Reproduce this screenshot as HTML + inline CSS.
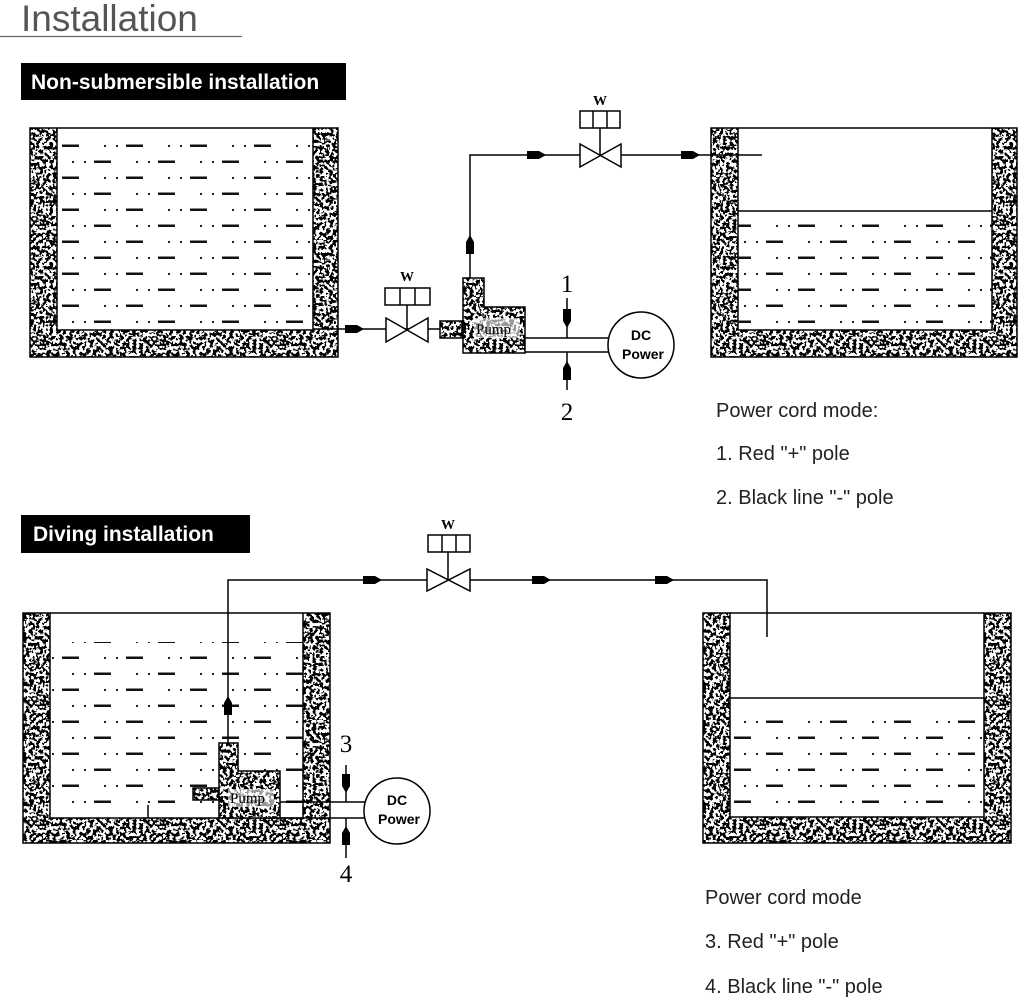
<!DOCTYPE html>
<html><head><meta charset="utf-8"><style>
html,body{margin:0;padding:0;background:#fff;}
body{width:1024px;height:1000px;overflow:hidden;position:relative;font-family:"Liberation Sans",sans-serif;}
</style></head><body>
<svg width="1024" height="1000" viewBox="0 0 1024 1000" xmlns="http://www.w3.org/2000/svg" style="position:absolute;left:0;top:0">
<defs>
<filter id="nz" x="0" y="0" width="100%" height="100%">
<feTurbulence type="fractalNoise" baseFrequency="0.3" numOctaves="2" seed="3"/>
<feColorMatrix type="matrix" values="1 0 0 0 0 1 0 0 0 0 1 0 0 0 0 0 0 0 0 1"/>
<feComponentTransfer><feFuncR type="discrete" tableValues="0 1"/><feFuncG type="discrete" tableValues="0 1"/><feFuncB type="discrete" tableValues="0 1"/></feComponentTransfer>
</filter>
<pattern id="spk" patternUnits="userSpaceOnUse" width="120" height="120">
<rect width="120" height="120" fill="#fff" filter="url(#nz)"/>
</pattern>
<pattern id="wtr" patternUnits="userSpaceOnUse" width="64" height="32" x="0" y="0">
<rect x="8" y="1" width="2" height="2" fill="#222"/><rect x="20" y="1" width="2" height="2" fill="#222"/>
<rect x="30" y="0.5" width="17" height="2.5" fill="#111"/>
<rect x="40" y="17" width="2" height="2" fill="#222"/><rect x="52" y="17" width="2" height="2" fill="#222"/>
<rect x="62" y="16.5" width="2" height="2.5" fill="#111"/><rect x="0" y="16.5" width="15" height="2.5" fill="#111"/>
</pattern>
<g id="arrR"><path d="M-9,-4 L3,-4 L10,0 L3,4 L-9,4 Z" fill="#000"/></g>
<g id="arrU"><path d="M-4,9 L-4,-3 L0,-10 L4,-3 L4,9 Z" fill="#000"/></g>
<g id="arrD"><path d="M-4,-9 L-4,3 L0,10 L4,3 L4,-9 Z" fill="#000"/></g>
</defs>

<text x="21" y="31" font-size="37" fill="#555" font-family="Liberation Sans, sans-serif">Installation</text>
<line x1="0" y1="36.5" x2="242" y2="36.5" stroke="#666" stroke-width="1.2"/>
<rect x="21" y="63" width="325" height="37" fill="#000"/>
<text x="31" y="89" font-size="21" font-weight="bold" fill="#fff">Non-submersible installation</text>
<rect x="21" y="515" width="229" height="38" fill="#000"/>
<text x="33" y="541" font-size="21" font-weight="bold" fill="#fff">Diving installation</text>

<g stroke="#000" stroke-width="1.5" fill="none">
<path d="M30,128 H57 V330 H313 V128 H338 V357 H30 Z" fill="url(#spk)"/>
<rect x="57" y="136" width="256" height="192" fill="url(#wtr)" stroke="none"/>
<line x1="57" y1="128" x2="313" y2="128"/>
<path d="M711,128 H738 V330 H992 V128 H1017 V357 H711 Z" fill="url(#spk)"/>
<line x1="738" y1="128" x2="992" y2="128"/>
<line x1="738" y1="211" x2="992" y2="211"/>
<rect x="738" y="220" width="254" height="108" fill="url(#wtr)" stroke="none"/>
<path d="M23,613 H50 V818 H303 V613 H330 V843 H23 Z" fill="url(#spk)"/>
<line x1="50" y1="613" x2="303" y2="613"/>
<rect x="50" y="642" width="253" height="168" fill="url(#wtr)" stroke="none"/>
<path d="M703,613 H730 V817 H984 V613 H1011 V843 H703 Z" fill="url(#spk)"/>
<line x1="730" y1="613" x2="984" y2="613"/>
<line x1="730" y1="698" x2="984" y2="698"/>
<rect x="730" y="708" width="254" height="104" fill="url(#wtr)" stroke="none"/>

<line x1="313" y1="329" x2="440" y2="329"/>
<polyline points="470,278 470,155 762,155"/>
<path d="M386,318 L386,342 L428,318 L428,342 Z" fill="#fff"/>
<line x1="407" y1="305" x2="407" y2="330"/>
<rect x="385" y="288" width="45" height="17" fill="#fff"/>
<line x1="400" y1="288" x2="400" y2="305"/><line x1="415" y1="288" x2="415" y2="305"/>
<path d="M580,144 L580,167 L621,144 L621,167 Z" fill="#fff"/>
<line x1="600" y1="128" x2="600" y2="155"/>
<rect x="580" y="111" width="40" height="17" fill="#fff"/>
<line x1="593" y1="111" x2="593" y2="128"/><line x1="607" y1="111" x2="607" y2="128"/>
<rect x="440" y="321" width="22" height="17" fill="url(#spk)"/>
<path d="M463,278 H484 V307 H525 V353 H463 Z" fill="url(#spk)"/>
<rect x="474" y="318" width="46" height="20" fill="#fff" stroke="none" opacity="0.6"/>
<line x1="525" y1="338" x2="609" y2="338"/><line x1="525" y1="352" x2="609" y2="352"/>
<circle cx="641" cy="345" r="33" fill="#fff"/>
<line x1="567" y1="298" x2="567" y2="338"/><line x1="567" y1="352" x2="567" y2="390"/>

<polyline points="228,743 228,580 767,580 767,637"/>
<path d="M427,569 L427,591 L470,569 L470,591 Z" fill="#fff"/>
<line x1="448" y1="552" x2="448" y2="580"/>
<rect x="428" y="535" width="42" height="17" fill="#fff"/>
<line x1="442" y1="535" x2="442" y2="552"/><line x1="456" y1="535" x2="456" y2="552"/>
<rect x="193" y="788" width="26" height="12" fill="url(#spk)"/>
<path d="M219,743 H238 V771 H280 V818 H219 Z" fill="url(#spk)"/>
<rect x="228" y="789" width="46" height="18" fill="#fff" stroke="none" opacity="0.6"/>
<line x1="148" y1="805" x2="148" y2="818"/>
<line x1="280" y1="802" x2="365" y2="802"/><line x1="280" y1="818" x2="365" y2="818"/>
<circle cx="397" cy="811" r="33" fill="#fff"/>
<line x1="346" y1="765" x2="346" y2="802"/><line x1="346" y1="818" x2="346" y2="858"/>
</g>

<use href="#arrR" x="354" y="329"/>
<use href="#arrU" x="470" y="245"/>
<use href="#arrR" x="536" y="155"/>
<use href="#arrR" x="690" y="155"/>
<use href="#arrD" x="567" y="318"/>
<use href="#arrU" x="567" y="371"/>
<use href="#arrU" x="228" y="706"/>
<use href="#arrR" x="372" y="580"/>
<use href="#arrR" x="541" y="580"/>
<use href="#arrR" x="664" y="580"/>
<use href="#arrD" x="346" y="783"/>
<use href="#arrU" x="346" y="836"/>

<g font-family="Liberation Serif, serif" fill="#000">
<text x="407" y="281" font-size="14" font-weight="bold" text-anchor="middle">W</text>
<text x="600" y="105" font-size="14" font-weight="bold" text-anchor="middle">W</text>
<text x="448" y="529" font-size="14" font-weight="bold" text-anchor="middle">W</text>
<text x="476" y="334" font-size="15">Pump</text>
<text x="230" y="803" font-size="15">Pump</text>
<text x="567" y="292" font-size="25" text-anchor="middle">1</text>
<text x="567" y="420" font-size="25" text-anchor="middle">2</text>
<text x="346" y="752" font-size="25" text-anchor="middle">3</text>
<text x="346" y="882" font-size="25" text-anchor="middle">4</text>
</g>
<g font-family="Liberation Sans, sans-serif" font-weight="bold" font-size="14" text-anchor="middle">
<text x="641" y="340">DC</text><text x="643" y="359">Power</text>
<text x="397" y="805">DC</text><text x="399" y="824">Power</text>
</g>
<g font-family="Liberation Sans, sans-serif" font-size="20" fill="#222">
<text x="716" y="417">Power cord mode:</text>
<text x="716" y="460">1. Red "+" pole</text>
<text x="716" y="504">2. Black line "-" pole</text>
<text x="705" y="904">Power cord mode</text>
<text x="705" y="948">3. Red "+" pole</text>
<text x="705" y="993">4. Black line "-" pole</text>
</g>
</svg>
</body></html>
